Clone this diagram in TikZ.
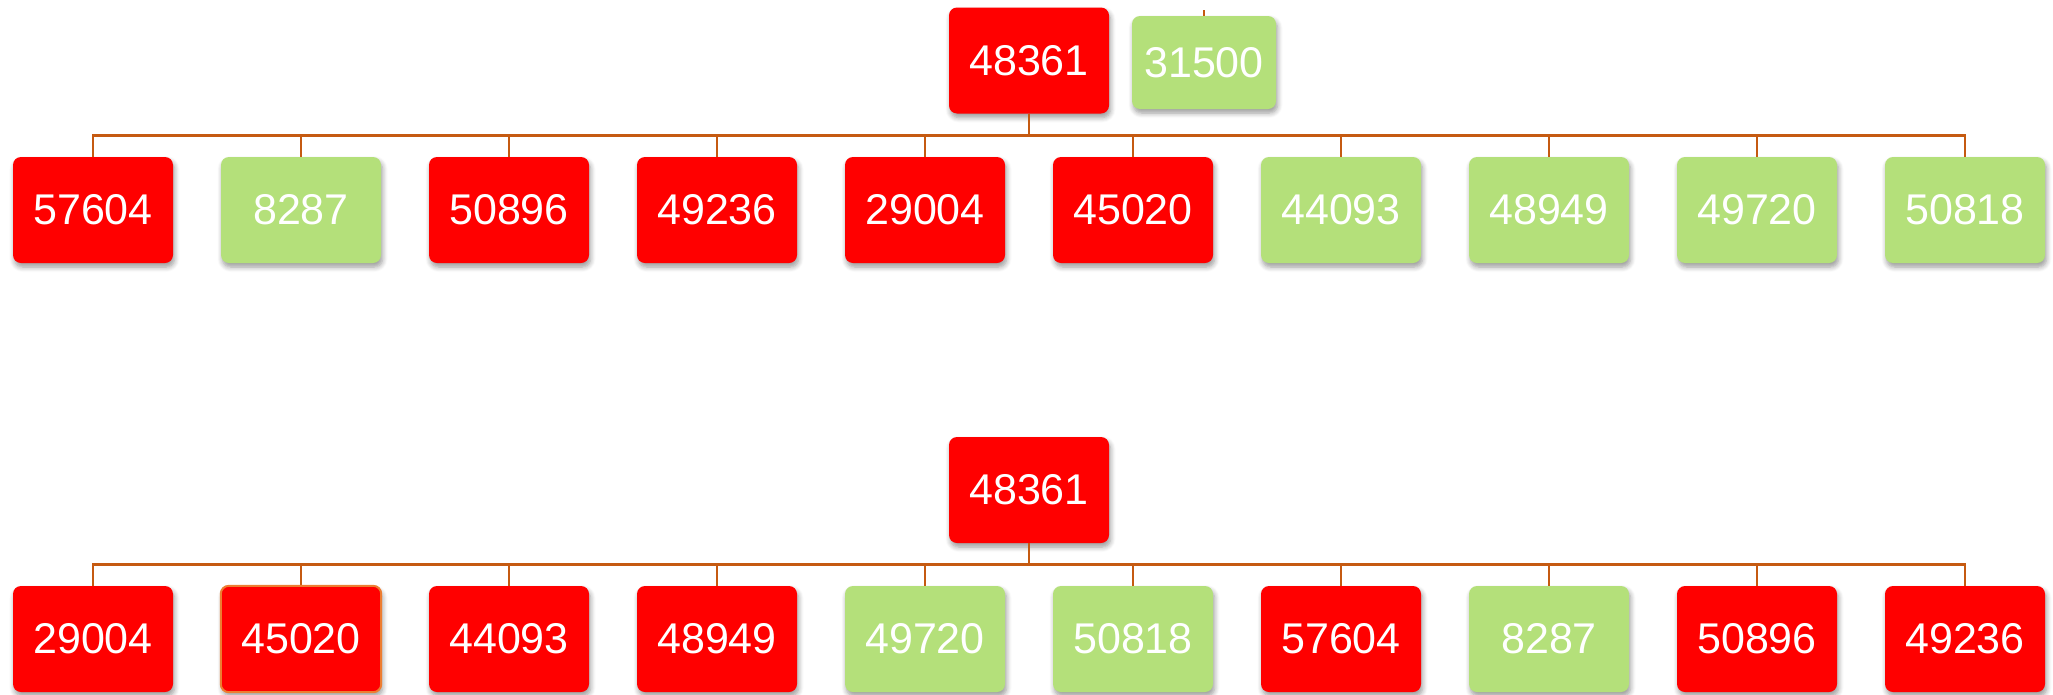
\documentclass[tikz,border=0pt]{standalone}
\usepackage{fontspec}
\setmainfont{Liberation Sans}
\usetikzlibrary{shadows.blur}
\definecolor{boxred}{RGB}{255,0,0}
\definecolor{boxgreen}{RGB}{180,224,122}
\definecolor{linkbrown}{RGB}{197,90,17}
\definecolor{edgeorange}{RGB}{237,125,49}
\tikzset{
  card/.style={rounded corners=8pt, minimum width=160pt, minimum height=106pt,
    inner sep=0pt, text=white, font=\fontsize{43}{50}\selectfont,
    blur shadow={shadow xshift=1.5pt, shadow yshift=-4pt, shadow blur radius=5pt,
      shadow blur steps=6, shadow opacity=40}},
  redcard/.style={card, fill=boxred},
  greencard/.style={card, fill=boxgreen},
  conn/.style={draw=linkbrown, line width=2.6pt}
}
\begin{document}
\begin{tikzpicture}[x=1pt, y=-1pt]
  \useasboundingbox (0,0) rectangle (2053,694);

  % upper tree
  \node[redcard] (ra) at (1029,60.5) {48361};
  \node[greencard, minimum width=144pt, minimum height=93pt] (side) at (1204,62.5) {31500};
  \coordinate (sidetop) at (1204,10);
  \draw[conn, line width=1.5pt] (sidetop) -- (side.north);
  \foreach \n/\lab/\col [count=\i from 0] in
    {a0/57604/red, a1/8287/green, a2/50896/red, a3/49236/red, a4/29004/red,
     a5/45020/red, a6/44093/green, a7/48949/green, a8/49720/green, a9/50818/green}
  {
    \node[\col card] (\n) at (93+208*\i,210) {\lab};
    \draw[conn] (ra.south) -- ++(0,22) -| (\n.north);
  }

  % lower tree
  \node[redcard] (rb) at (1029,490) {48361};
  \foreach \n/\lab/\col [count=\i from 0] in
    {b0/29004/red, b1/45020/red, b2/44093/red, b3/48949/red, b4/49720/green,
     b5/50818/green, b6/57604/red, b7/8287/green, b8/50896/red, b9/49236/red}
  {
    \node[\col card] (\n) at (93+208*\i,639) {\lab};
    \draw[conn] (rb.south) -- ++(0,21.5) -| (\n.north);
  }
  \draw[edgeorange, line width=2pt, rounded corners=8pt]
    (b1.south west) rectangle (b1.north east);
\end{tikzpicture}
\end{document}
